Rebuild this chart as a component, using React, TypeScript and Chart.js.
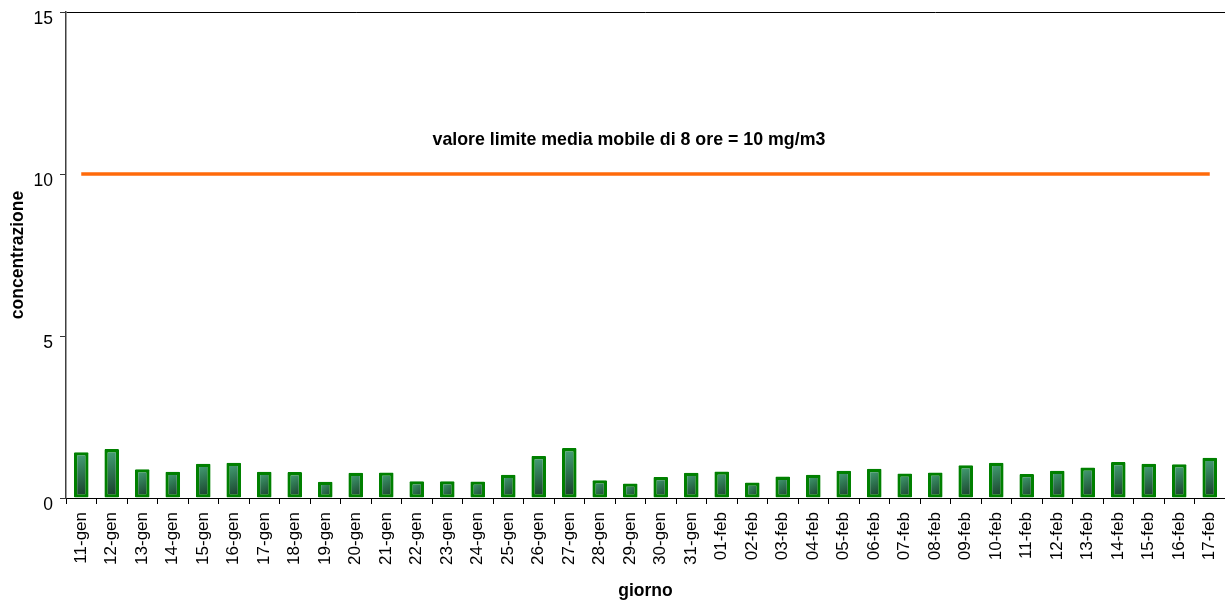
import React, { useEffect, useRef } from "react";
import { Chart, registerables } from "chart.js";

Chart.register(...registerables);

const categories = [
  "11-gen", "12-gen", "13-gen", "14-gen", "15-gen", "16-gen", "17-gen", "18-gen", "19-gen", "20-gen",
  "21-gen", "22-gen", "23-gen", "24-gen", "25-gen", "26-gen", "27-gen", "28-gen", "29-gen", "30-gen",
  "31-gen", "01-feb", "02-feb", "03-feb", "04-feb", "05-feb", "06-feb", "07-feb", "08-feb", "09-feb",
  "10-feb", "11-feb", "12-feb", "13-feb", "14-feb", "15-feb", "16-feb", "17-feb",
];

const concentrazione = [
  1.41, 1.51, 0.89, 0.81, 1.06, 1.09, 0.81, 0.8, 0.5, 0.78,
  0.79, 0.52, 0.52, 0.51, 0.72, 1.3, 1.54, 0.55, 0.45, 0.65,
  0.78, 0.82, 0.48, 0.66, 0.72, 0.84, 0.9, 0.76, 0.79, 1.01,
  1.09, 0.74, 0.84, 0.94, 1.11, 1.06, 1.04, 1.24,
];

const limiteValue = 10;
const limite = categories.map(() => limiteValue);

const yTicks = [0, 5, 10, 15];

const annotationText = "valore limite media mobile di 8 ore = 10 mg/m3";
const FONT = "'Liberation Sans', Arial, sans-serif";

export default function App() {
  const canvasRef = useRef<HTMLCanvasElement | null>(null);

  useEffect(() => {
    document.body.style.margin = "0";
    const canvas = canvasRef.current;
    if (!canvas) return;

    const annotationPlugin = {
      id: "limitLabel",
      afterDraw(chart: any) {
        const { ctx, chartArea, scales } = chart;
        if (!chartArea) return;
        ctx.save();
        ctx.font = `bold 17.8px ${FONT}`;
        ctx.fillStyle = "#000";
        ctx.textAlign = "center";
        ctx.textBaseline = "alphabetic";
        const x = chartArea.left + (chartArea.right - chartArea.left) * 0.4857;
        const y = scales.y.getPixelForValue(limiteValue) - 29;
        ctx.fillText(annotationText, x, y);
        ctx.restore();
      },
    };

    const barFill = (c: any) => {
      const chart = c.chart;
      if (!chart.chartArea || c.type !== "data") return "#2a6e4a";
      const ys = chart.scales.y;
      const xs = chart.scales.x;
      const v = c.raw as number;
      const top = ys.getPixelForValue(v);
      const base = ys.getPixelForValue(0);
      const cx = xs.getPixelForValue(c.dataIndex);
      const g = chart.ctx.createLinearGradient(cx - 7, top, cx + 7, base);
      g.addColorStop(0, "#4aa67c");
      g.addColorStop(0.45, "#2f7652");
      g.addColorStop(1, "#163626");
      return g;
    };

    const chart = new Chart(canvas, {
      type: "bar",
      data: {
        labels: categories,
        datasets: [
          {
            type: "line",
            label: "limite",
            data: limite,
            borderColor: "#ff6a0a",
            borderWidth: 3.5,
            pointRadius: 0,
            fill: false,
            order: 0,
          } as any,
          {
            type: "bar",
            label: "concentrazione",
            data: concentrazione,
            backgroundColor: barFill,
            borderColor: "#008000",
            borderWidth: 3.3,
            borderSkipped: false,
            borderRadius: 1,
            categoryPercentage: 1,
            barPercentage: 0.48,
            order: 1,
          },
        ],
      },
      options: {
        animation: false,
        responsive: true,
        maintainAspectRatio: false,
        layout: { padding: { top: 12, right: 0, left: 0, bottom: 0 } },
        plugins: {
          legend: { display: false },
          tooltip: { enabled: false },
        },
        scales: {
          x: {
            offset: true,
            grid: {
              offset: true,
              color: "rgba(0,0,0,0)",
              tickColor: "#000",
              tickLength: 6,
              drawOnChartArea: false,
            },
            border: { display: true, color: "#000", width: 1 },
            ticks: {
              autoSkip: false,
              maxRotation: 90,
              minRotation: 90,
              padding: 8,
              color: "#000",
              font: { family: FONT, size: 17 },
            },
            title: {
              display: true,
              text: "giorno",
              color: "#000",
              font: { family: FONT, size: 17.5, weight: "bold" },
              padding: { top: 0, bottom: 1 },
            },
            afterFit(scale: any) {
              scale.height = 105;
              scale.paddingLeft = 0;
              scale.paddingRight = 0;
            },
          },
          y: {
            min: 0,
            max: 15,
            afterBuildTicks(scale: any) {
              scale.ticks = yTicks.map((v) => ({ value: v }));
            },
            grid: {
              color: (c: any) => (c.tick && c.tick.value === 15 ? "#000" : "rgba(0,0,0,0)"),
              tickColor: "#333",
              tickLength: 6,
              lineWidth: 1,
            },
            border: { display: true, color: "#404040", width: 1.5 },
            ticks: {
              padding: 7,
              labelOffset: 7.5,
              color: "#000",
              font: { family: FONT, size: 17.5 },
            },
            title: {
              display: true,
              text: "concentrazione",
              color: "#000",
              font: { family: FONT, size: 17.5, weight: "bold" },
              padding: { top: 7.5, bottom: 0 },
            },
            afterFit(scale: any) {
              scale.width = 66;
              scale.paddingTop = 0;
              scale.paddingBottom = 0;
            },
          },
        },
      },
      plugins: [annotationPlugin],
    });

    return () => {
      chart.destroy();
    };
  }, []);

  return (
    <div style={{ width: "1225px", height: "603px", position: "relative" }}>
      <canvas ref={canvasRef} />
    </div>
  );
}
